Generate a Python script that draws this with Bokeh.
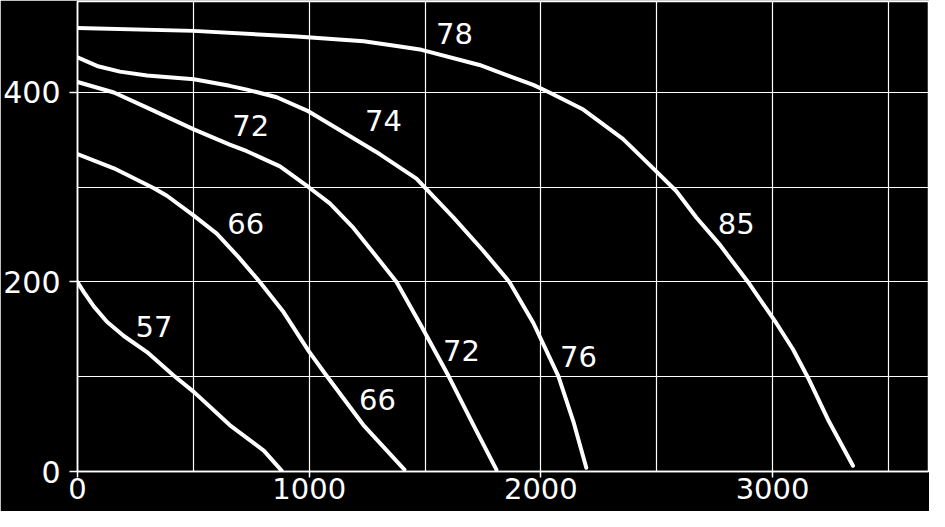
from bokeh.plotting import figure
from bokeh.models import FixedTicker, Range1d, ColumnDataSource
from bokeh.core.properties import value
from bokeh.embed import file_html
from bokeh.resources import INLINE

# Fan curves (x: airflow, y: pressure)
c78_x = [0, 500, 946, 1235, 1377, 1485, 1735, 1967, 2037, 2183, 2354, 2455, 2584, 2671, 2770, 2894, 3015, 3088, 3153, 3243, 3347]
c78_y = [468, 465, 459, 454, 449, 445, 429, 408, 400, 382, 351, 327, 296, 268, 240, 200, 157, 129, 99, 53, 6]

c74_x = [0, 84, 183, 300, 502, 657, 731, 860, 998, 1162, 1304, 1463, 1623, 1751, 1864, 1967, 2075, 2140, 2196]
c74_y = [437, 428, 422, 418, 414, 407, 403, 395, 380, 356, 335, 309, 268, 233, 200, 157, 101, 53, 4]

c72_x = [0, 157, 300, 502, 657, 731, 874, 998, 1089, 1191, 1270, 1377, 1485, 1601, 1709, 1808]
c72_y = [411, 400, 384, 361, 345, 338, 322, 300, 283, 257, 233, 200, 153, 101, 49, 2]

c66_x = [0, 157, 330, 386, 502, 601, 696, 787, 890, 998, 1075, 1234, 1411]
c66_y = [335, 320, 299, 291, 270, 251, 226, 200, 168, 127, 101, 49, 2]

c57_x = [0, 28, 71, 127, 200, 300, 416, 502, 657, 804, 881]
c57_y = [200, 189, 174, 158, 143, 126, 101, 84, 49, 22, 1]

curves = [(c78_x, c78_y), (c74_x, c74_y), (c72_x, c72_y), (c66_x, c66_y), (c57_x, c57_y)]

label_text = ["78", "74", "72", "85", "66", "57", "72", "76", "66"]
label_x = [1627, 1321, 748, 2843, 726, 330, 1657, 2162, 1295]
label_y = [462, 370, 365, 262, 262, 153, 128, 121, 76]

x_label_ticks = [0, 1000, 2000, 3000]
x_grid_ticks = [500, 1000, 1500, 2000, 2500, 3000, 3500]
y_label_ticks = [0, 200, 400]
y_grid_ticks = [100, 200, 300, 400]

FONT = "DejaVu Sans"

p = figure(width=929, height=511, x_range=Range1d(0, 3673), y_range=Range1d(0, 496),
           output_backend="svg", toolbar_location=None,
           min_border_left=73, min_border_right=1, min_border_top=1, min_border_bottom=40)

p.background_fill_color = "black"
p.border_fill_color = "black"
p.outline_line_color = "white"
p.outline_line_width = 1.5

p.xgrid.ticker = FixedTicker(ticks=x_grid_ticks)
p.ygrid.ticker = FixedTicker(ticks=y_grid_ticks)
for g in (p.xgrid, p.ygrid):
    g.grid_line_color = "white"
    g.grid_line_width = 1.2
    g.grid_line_alpha = 1.0

p.xaxis.ticker = FixedTicker(ticks=x_label_ticks)
p.yaxis.ticker = FixedTicker(ticks=y_label_ticks)
for ax in (p.xaxis, p.yaxis):
    ax.axis_line_color = "white"
    ax.axis_line_width = 1.5
    ax.major_tick_line_color = "white"
    ax.major_tick_line_width = 1.5
    ax.major_tick_in = 0
    ax.minor_tick_line_color = None
    ax.major_label_text_color = "white"
    ax.major_label_text_font = FONT
p.xaxis.major_tick_out = 6
p.yaxis.major_tick_out = 8
p.xaxis.major_label_text_font_size = "29px"
p.yaxis.major_label_text_font_size = "30px"
p.xaxis.major_label_standoff = 0
p.yaxis.major_label_standoff = 9

for cx, cy in curves:
    p.line(cx, cy, line_color="white", line_width=4, line_join="round", line_cap="round")

src = ColumnDataSource(dict(x=label_x, y=label_y, t=label_text))
p.text(x="x", y="y", text="t", source=src, text_color="white", text_font=value(FONT),
       text_font_size="29px", text_align="center", text_baseline="middle")

open("out.html", "w").write(file_html(p, INLINE))
